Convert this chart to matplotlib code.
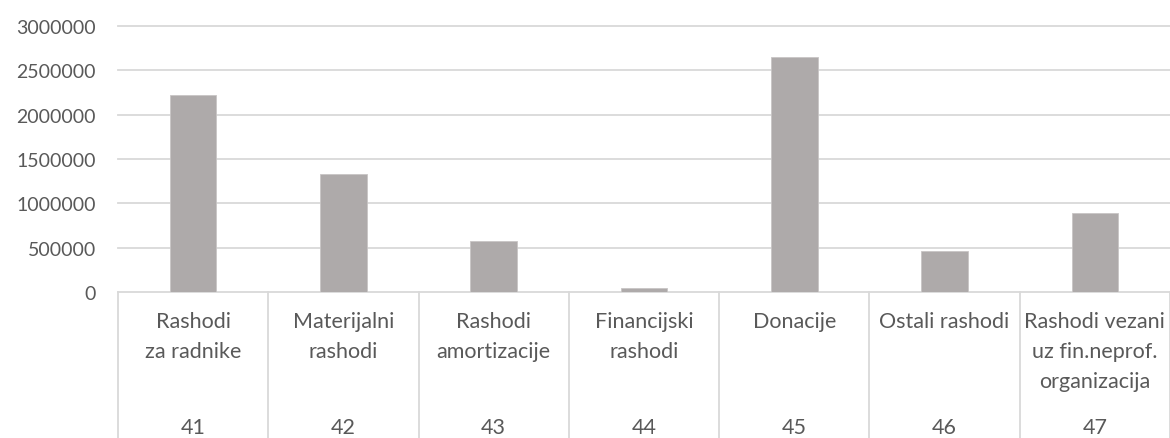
import matplotlib
matplotlib.use("Agg")
import matplotlib.pyplot as plt
import matplotlib.transforms as mtransforms

codes = ["41", "42", "43", "44", "45", "46", "47"]
names = ["Rashodi\nza radnike", "Materijalni\nrashodi", "Rashodi\namortizacije",
         "Financijski\nrashodi", "Donacije", "Ostali rashodi",
         "Rashodi vezani\nuz fin.neprof.\norganizacija"]
values = [2220000, 1330000, 575000, 45000, 2650000, 459000, 888000]
yticks = [0, 500000, 1000000, 1500000, 2000000, 2500000, 3000000]

W, H = 1170, 439
fig = plt.figure(figsize=(W / 100, H / 100), dpi=100)
left, right, top, bottom = 118, 1170, 27, 293
ax = fig.add_axes([left / W, (H - bottom) / H, (right - left) / W, (bottom - top) / H])

txtc = "#595959"
gridc = "#D9D9D9"
font = "Lato"
fs = 14
fs_cat = 15.5

x = list(range(len(values)))
ax.bar(x, values, width=0.31, color="#AEAAAA", edgecolor="#C8C5C5", linewidth=0.6, zorder=3)
ax.set_xlim(-0.5, len(values) - 0.5)
ax.set_ylim(0, 3000000)

for v in yticks:
    ax.axhline(v, color=gridc, lw=1.3, zorder=1, clip_on=False)

ax.set_yticks(yticks)
ax.set_yticklabels([str(v) for v in yticks], fontsize=fs, color=txtc, family=font)
ax.tick_params(axis="y", length=0, pad=16)
ax.set_xticks([])
for s in ax.spines.values():
    s.set_visible(False)

axh = bottom - top
def yfrac(py):
    return (bottom - py) / axh

trans = mtransforms.blended_transform_factory(ax.transData, ax.transAxes)
for b in range(len(values) + 1):
    ax.plot([b - 0.5, b - 0.5], [0, yfrac(H + 2)], color=gridc, lw=1.3,
            transform=trans, clip_on=False)

for i, (nm, cd) in enumerate(zip(names, codes)):
    for j, line in enumerate(nm.split("\n")):
        ax.text(i, yfrac(322 + 30 * j), line, transform=trans, ha="center", va="center",
                fontsize=fs_cat, color=txtc, family=font, clip_on=False)
    ax.text(i, yfrac(428), cd, transform=trans, ha="center", va="center",
            fontsize=fs_cat, color=txtc, family=font, clip_on=False)

fig.savefig("out.png", dpi=100)
